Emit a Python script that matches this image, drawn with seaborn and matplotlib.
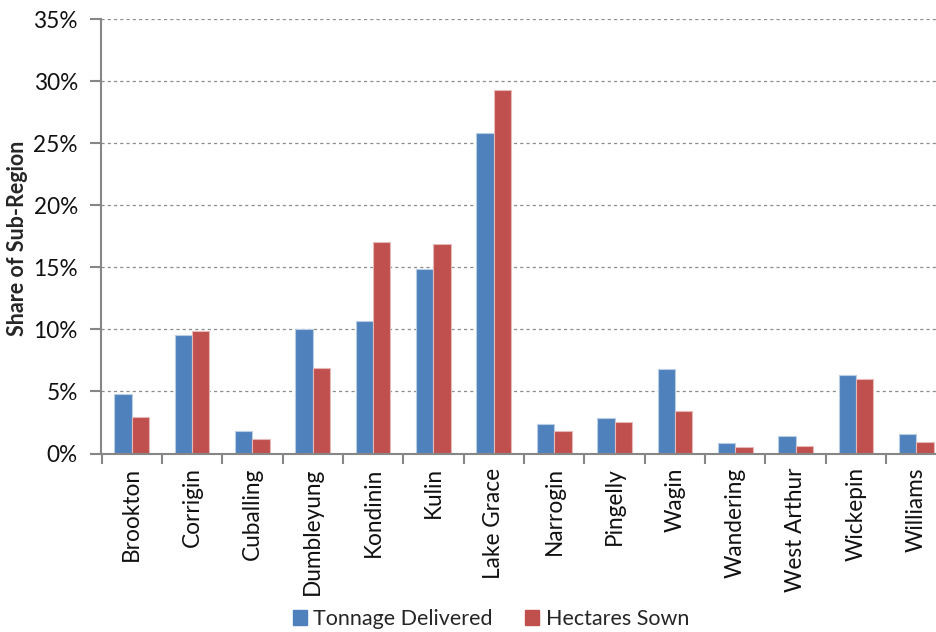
import matplotlib
matplotlib.use("Agg")
import matplotlib.pyplot as plt
import seaborn as sns
import pandas as pd
from matplotlib.ticker import FuncFormatter, MultipleLocator
from matplotlib.patches import Patch

shires = ["Brookton", "Corrigin", "Cuballing", "Dumbleyung", "Kondinin", "Kulin",
          "Lake Grace", "Narrogin", "Pingelly", "Wagin", "Wandering", "West Arthur",
          "Wickepin", "Williams"]
tonnage = [4.83, 9.57, 1.85, 10.06, 10.70, 14.88, 25.80, 2.39, 2.87, 6.78, 0.83, 1.39, 6.36, 1.58]
hectares = [2.98, 9.90, 1.13, 6.92, 17.06, 16.90, 29.25, 1.85, 2.57, 3.40, 0.54, 0.62, 6.03, 0.94]
series_names = ["Tonnage Delivered", "Hectares Sown"]
colors = ["#4F81BD", "#C0504D"]

df = pd.DataFrame({
    "Shire": shires * 2,
    "Share": tonnage + hectares,
    "Series": [series_names[0]] * len(shires) + [series_names[1]] * len(shires),
})

sns.set_style("white")
plt.rcParams["font.family"] = ["Lato", "DejaVu Sans"]
FS = 16.3

fig = plt.figure(figsize=(9.37, 6.32), dpi=100)
ax = fig.add_axes([101.5 / 937, 1 - 453.5 / 632, (946.5 - 101.5) / 937, (453.5 - 19) / 632])

sns.barplot(data=df, x="Shire", y="Share", hue="Series", palette=colors,
            width=0.575, ax=ax, legend=False, saturation=1)

edge_cols = ["#B9CDE5", "#E6B9B8"]
for i, container in enumerate(ax.containers):
    for bar in container:
        bar.set_edgecolor(edge_cols[i])
        bar.set_linewidth(0.8)

ax.set_xlim(-0.5, len(shires) - 0.5)
ax.set_ylim(0, 35)
ax.yaxis.set_major_locator(MultipleLocator(5))
ax.yaxis.set_major_formatter(FuncFormatter(lambda v, p: f"{v:.0f}%"))
ax.grid(axis="y", color="#8C8C8C", linestyle=(0, (2.5, 2.5)), linewidth=0.9)
ax.set_axisbelow(True)

for side in ["top", "right"]:
    ax.spines[side].set_visible(False)
for side in ["left", "bottom"]:
    ax.spines[side].set_color("#868686")
    ax.spines[side].set_linewidth(1.5)

# category ticks sit between the groups
ax.set_xticks([i - 0.5 for i in range(len(shires) + 1)], minor=True)
ax.set_xticks(range(len(shires)))
ax.set_xticklabels(shires, rotation=90, fontsize=FS, color="#111111")
ax.tick_params(axis="x", which="major", length=0, pad=10)
ax.tick_params(axis="x", which="minor", length=7, width=1.5, color="#868686", direction="out")
ax.tick_params(axis="y", length=8, width=1.5, color="#868686", direction="out",
               labelsize=FS, labelcolor="#111111", pad=9)
ax.tick_params(left=True, bottom=False)
ax.tick_params(axis="x", which="minor", bottom=True)

ax.set_xlabel("")
ax.set_ylabel("Share of Sub-Region", fontsize=15.5, fontweight="bold")
ax.yaxis.set_label_coords((28 - 101.5) / 845, (453.5 - 238.5) / 434.5)

handles = [Patch(facecolor=c, edgecolor=c) for c in colors]
fig.legend(handles, series_names, loc="center", bbox_to_anchor=(491 / 937, 1 - 619 / 632),
           ncol=2, frameon=False, fontsize=15.5, handlelength=0.65, handleheight=0.65,
           handletextpad=0.3, columnspacing=1.5)

fig.savefig("out.png", dpi=100)
